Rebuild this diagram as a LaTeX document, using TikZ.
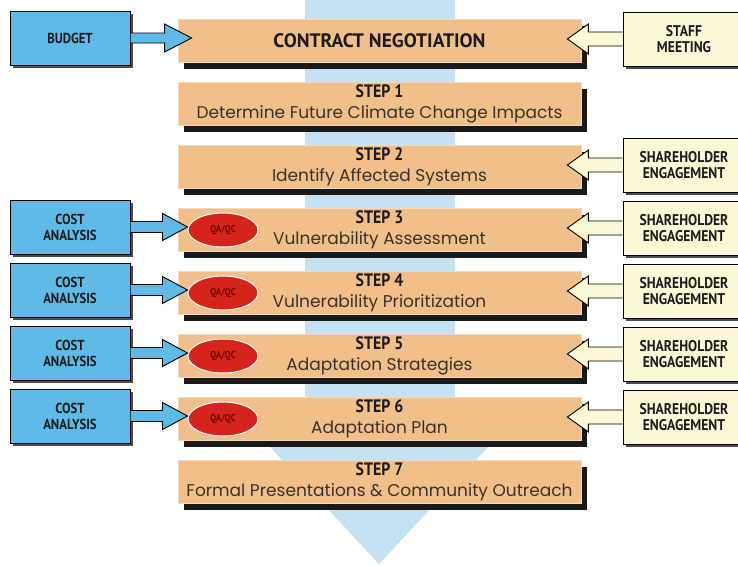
\documentclass[tikz,border=0pt]{standalone}
\usepackage{fontspec}
\setmainfont{Poppins}
\newfontfamily\labfont[FakeStretch=0.88]{PT Sans}
\newfontfamily\headfont{PT Sans}
\usetikzlibrary{calc,shadows,shapes.geometric}
\definecolor{stepfill}{RGB}{241,191,138}
\definecolor{bgblue}{RGB}{196,226,241}
\definecolor{boxblue}{RGB}{96,186,232}
\definecolor{cream}{RGB}{251,248,214}
\definecolor{qared}{RGB}{212,36,28}
\definecolor{qadark}{RGB}{110,8,8}
\definecolor{bodytext}{RGB}{58,50,40}
\definecolor{labtext}{RGB}{28,28,28}
\newcommand{\fatarrow}[7]{%
  \filldraw[fill=#3, draw=black, line width=0.9pt, line join=miter]
    let \p1=(#1), \p2=(#2) in
    (\x1,{\y1+#5}) -- ({\x2-(#4)*#7},{\y1+#5}) -- ({\x2-(#4)*#7},{\y1+#6})
    -- (\x2,\y1) -- ({\x2-(#4)*#7},{\y1-#6}) -- ({\x2-(#4)*#7},{\y1-#5})
    -- (\x1,{\y1-#5});}
\begin{document}
\begin{tikzpicture}[x=1pt,y=-1pt,
  stepbox/.style={fill=stepfill, draw=stepfill!60!white, line width=0.8pt,
    minimum width=403pt, minimum height=43pt, inner sep=0pt, align=center,
    text=bodytext, font=\fontsize{17}{20.5}\selectfont,
    drop shadow={shadow xshift=6pt, shadow yshift=-6pt, fill=black!90, opacity=1}},
  bluebox/.style={fill=boxblue, draw=black, line width=1pt,
    minimum width=120pt, minimum height=54pt, inner sep=0pt, align=center,
    text=labtext, font=\labfont\bfseries\fontsize{14.5}{16}\selectfont,
    drop shadow={shadow xshift=3pt, shadow yshift=-3pt, fill=black!70, opacity=1}},
  creambox/.style={fill=cream, draw=black, line width=1pt,
    minimum width=122pt, minimum height=54pt, inner sep=0pt, align=center,
    text=labtext, font=\labfont\bfseries\fontsize{15.5}{16}\selectfont,
    drop shadow={shadow xshift=3pt, shadow yshift=-3pt, fill=black!70, opacity=1}},
  qa/.style={ellipse, fill=qared, draw=white, line width=1pt,
    minimum width=70pt, minimum height=34pt, inner sep=0pt,
    text=qadark, font=\labfont\bfseries\fontsize{10}{11}\selectfont},
]
\useasboundingbox (0,0) rectangle (738,565);
\fill[white] (0,0) rectangle (738,565);
% background arrow
\fill[bgblue] (305,0) -- (455,0) -- (455,447) -- (488,447) -- (379,564)
  -- (270,447) -- (305,447) -- cycle;

\newcommand{\steplab}[2]{{\labfont\bfseries\fontsize{18}{20.5}\selectfont\color{labtext}#1}\\{#2}}

\node[stepbox] (cn) at (379.5,41) {\headfont\bfseries\fontsize{19.5}{22}\selectfont\color{labtext}CONTRACT NEGOTIATION};
\node[stepbox] (s1) at (379.5,104) {\steplab{STEP 1}{Determine Future Climate Change Impacts}};
\node[stepbox] (s2) at (379.5,167) {\steplab{STEP 2}{Identify Affected Systems}};
\node[stepbox] (s3) at (379.5,230) {\steplab{STEP 3}{Vulnerability Assessment}};
\node[stepbox] (s4) at (379.5,293) {\steplab{STEP 4}{Vulnerability Prioritization}};
\node[stepbox] (s5) at (379.5,356) {\steplab{STEP 5}{Adaptation Strategies}};
\node[stepbox] (s6) at (379.5,419) {\steplab{STEP 6}{Adaptation Plan}};
\node[stepbox] (s7) at (379.5,482) {\steplab{STEP 7}{Formal Presentations \& Community Outreach}};

% left boxes
\node[bluebox] (budget) at (70,38) {BUDGET};
\node[bluebox] (c3) at (70,227) {COST\\ANALYSIS};
\node[bluebox] (c4) at (70,290) {COST\\ANALYSIS};
\node[bluebox] (c5) at (70,353) {COST\\ANALYSIS};
\node[bluebox] (c6) at (70,416) {COST\\ANALYSIS};

% right boxes
\node[creambox] (staff) at (684,39) {STAFF\\MEETING};
\node[creambox] (sh2) at (684,165) {SHAREHOLDER\\ENGAGEMENT};
\node[creambox] (sh3) at (684,228) {SHAREHOLDER\\ENGAGEMENT};
\node[creambox] (sh4) at (684,291) {SHAREHOLDER\\ENGAGEMENT};
\node[creambox] (sh5) at (684,354) {SHAREHOLDER\\ENGAGEMENT};
\node[creambox] (sh6) at (684,417) {SHAREHOLDER\\ENGAGEMENT};

% QA/QC ellipses
\node[qa] (q3) at (223,230) {QA/QC};
\node[qa] (q4) at (223,293) {QA/QC};
\node[qa] (q5) at (223,356) {QA/QC};
\node[qa] (q6) at (223,419) {QA/QC};

% arrows
\fatarrow{budget.east}{$(cn.west)+(14,0)$}{boxblue}{1}{5pt}{14pt}{27pt}
\fatarrow{c3.east}{q3.west}{boxblue}{1}{5.5pt}{13.5pt}{25pt}
\fatarrow{c4.east}{q4.west}{boxblue}{1}{5.5pt}{13.5pt}{25pt}
\fatarrow{c5.east}{q5.west}{boxblue}{1}{5.5pt}{13.5pt}{25pt}
\fatarrow{c6.east}{q6.west}{boxblue}{1}{5.5pt}{13.5pt}{25pt}
\fatarrow{staff.west}{$(cn.east)+(-14,0)$}{cream}{-1}{7pt}{15pt}{21pt}
\fatarrow{sh2.west}{$(s2.east)+(-14,0)$}{cream}{-1}{7pt}{15pt}{21pt}
\fatarrow{sh3.west}{$(s3.east)+(-14,0)$}{cream}{-1}{7pt}{15pt}{21pt}
\fatarrow{sh4.west}{$(s4.east)+(-14,0)$}{cream}{-1}{7pt}{15pt}{21pt}
\fatarrow{sh5.west}{$(s5.east)+(-14,0)$}{cream}{-1}{7pt}{15pt}{21pt}
\fatarrow{sh6.west}{$(s6.east)+(-14,0)$}{cream}{-1}{7pt}{15pt}{21pt}
\end{tikzpicture}
\end{document}
